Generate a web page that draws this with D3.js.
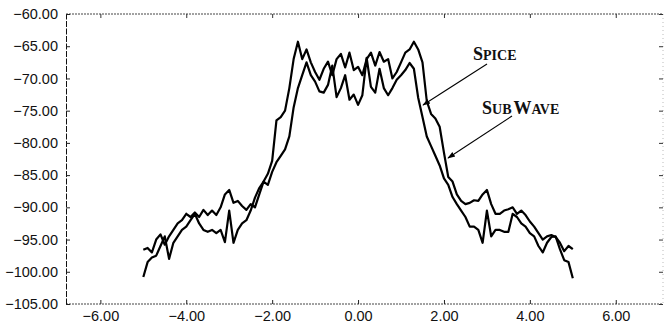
<!DOCTYPE html>
<html>
<head>
<meta charset="utf-8">
<script src="https://cdn.jsdelivr.net/npm/d3@7"></script>
<style>
  body { margin: 0; background: #fff; }
  svg { display: block; }
  .tick text { font-family: "Liberation Sans", Arial, sans-serif; font-size: 14.5px; fill: #111; }
</style>
</head>
<body>
<svg id="chart" width="667" height="325"></svg>
<script>
// x positions of the samples (step 0.1 from -5 to 5)
const xValues = d3.range(-50, 51).map((i) => i / 10);

// outer curve (SubWave)
const subwave = [
  -96.6, -96.3, -97.0, -95.0, -94.2, -95.8, -94.5, -93.5, -92.5, -92.0,
  -91.0, -91.5, -90.8, -91.5, -90.4, -91.2, -90.5, -91.2, -90.0, -88.0,
  -87.3, -89.3, -89.0, -89.8, -90.4, -89.5, -90.0, -88.0, -86.0, -84.8,
  -82.8, -76.5, -76.0, -75.0, -71.5, -67.0, -64.3, -67.0, -65.5, -67.5,
  -69.0, -70.2, -68.5, -67.4, -69.5, -67.0, -66.2, -68.3, -66.0, -68.7,
  -68.2, -69.5, -67.0, -66.0, -68.0, -65.9, -67.4, -67.0, -70.0, -69.0,
  -67.5, -66.0, -65.5, -64.3, -65.5, -67.5, -73.5, -75.5, -76.2, -77.5,
  -81.5, -85.3, -86.0, -88.0, -89.0, -89.5, -89.3, -88.9, -89.0, -88.0,
  -87.3, -89.5, -91.0, -91.0, -90.5, -90.3, -90.0, -91.0, -90.5, -91.2,
  -92.2, -93.0, -94.0, -95.0, -94.5, -94.3, -94.6, -95.5, -96.8, -96.0,
  -96.5
];

// inner curve (Spice)
const spice = [
  -100.8, -98.5, -97.8, -97.5, -96.0, -94.5, -98.0, -95.5, -94.5, -93.5,
  -93.0, -92.0, -91.0, -92.5, -93.5, -93.8, -93.5, -94.0, -93.5, -95.4,
  -90.5, -95.5, -93.5, -92.5, -92.0, -90.5, -88.5, -87.0, -86.0, -86.5,
  -84.5, -83.0, -82.0, -81.0, -79.0, -74.5, -71.5, -69.5, -67.5, -69.5,
  -70.5, -72.0, -72.2, -71.0, -68.0, -72.9, -71.5, -69.5, -73.3, -72.5,
  -74.1, -72.6, -66.8, -71.3, -72.2, -68.5, -71.5, -72.6, -71.5, -70.2,
  -69.5, -68.7, -67.6, -68.5, -73.0, -76.0, -79.0, -80.5, -82.0, -83.5,
  -85.5, -86.5, -88.4, -89.5, -90.5, -91.5, -93.0, -93.0, -93.5, -95.5,
  -90.5, -94.5, -93.5, -93.5, -93.8, -93.8, -91.0, -91.5, -92.5, -93.0,
  -94.0, -94.5, -96.0, -97.0, -95.5, -94.6, -94.5, -96.5, -98.2, -98.5,
  -101.0
];

const xTicks = [-6, -4, -2, 0, 2, 4, 6];
const yTicks = [-60, -65, -70, -75, -80, -85, -90, -95, -100, -105];

const svg = d3.select("#chart");
const plotLeft = 66, plotRight = 663, plotTop = 14, plotBottom = 304;

const x = d3.scaleLinear().domain([-6.8, 7.1]).range([plotLeft, plotRight]);
const y = d3.scaleLinear().domain([-105, -60]).range([plotBottom, plotTop]);
const fmt = d3.format(".2f");

// frame
svg.append("line")
  .attr("x1", plotLeft).attr("x2", plotRight).attr("y1", plotTop).attr("y2", plotTop)
  .attr("stroke", "#444").attr("stroke-width", 1).attr("stroke-dasharray", "2,1");
svg.append("line")
  .attr("x1", plotLeft).attr("x2", plotRight).attr("y1", plotBottom).attr("y2", plotBottom)
  .attr("stroke", "#444").attr("stroke-width", 1).attr("stroke-dasharray", "2,1");
svg.append("line")
  .attr("x1", plotRight).attr("x2", plotRight).attr("y1", plotTop).attr("y2", plotBottom)
  .attr("stroke", "#bbb").attr("stroke-width", 1).attr("stroke-dasharray", "1,3");

// left axis
const yAxis = svg.append("g")
  .attr("transform", `translate(${plotLeft}, 0)`)
  .call(d3.axisLeft(y).tickValues(yTicks).tickFormat(fmt).tickSize(-4).tickPadding(8).tickSizeOuter(0));
yAxis.select(".domain").attr("stroke", "#111").attr("stroke-dasharray", "6,1.5");
yAxis.selectAll(".tick line").attr("stroke", "#222");

// right ticks
svg.append("g")
  .attr("transform", `translate(${plotRight}, 0)`)
  .call(d3.axisRight(y).tickValues(yTicks).tickFormat("").tickSize(-4).tickSizeOuter(0))
  .call((g) => g.select(".domain").remove())
  .selectAll(".tick line").attr("stroke", "#333");

// bottom axis
const xAxis = svg.append("g")
  .attr("transform", `translate(0, ${plotBottom})`)
  .call(d3.axisBottom(x).tickValues(xTicks).tickFormat(fmt).tickSize(-4).tickPadding(7).tickSizeOuter(0));
xAxis.select(".domain").remove();
xAxis.selectAll(".tick line").attr("stroke", "#222");

// top ticks
svg.append("g")
  .attr("transform", `translate(0, ${plotTop})`)
  .call(d3.axisTop(x).tickValues(xTicks).tickFormat("").tickSize(-4).tickSizeOuter(0))
  .call((g) => g.select(".domain").remove())
  .selectAll(".tick line").attr("stroke", "#333");

// curves
const line = d3.line()
  .x((d) => x(d[0]))
  .y((d) => y(d[1]));

[subwave, spice].forEach((vals) => {
  svg.append("path")
    .datum(xValues.map((v, i) => [v, vals[i]]))
    .attr("d", line)
    .attr("fill", "none")
    .attr("stroke", "#000")
    .attr("stroke-width", 2.2)
    .attr("stroke-linejoin", "round");
});

// arrows + labels
svg.append("defs").append("marker")
  .attr("id", "arrow")
  .attr("viewBox", "0 0 10 10")
  .attr("refX", 9).attr("refY", 5)
  .attr("markerWidth", 7).attr("markerHeight", 7)
  .attr("orient", "auto")
  .append("path").attr("d", "M0,1.5 L10,5 L0,8.5 Z").attr("fill", "#000");

const notes = [
  { label: [["S", 18], ["PICE", 14]], tx: 473, ty: 60, from: [487, 64], to: [423, 105] },
  { label: [["S", 18], ["UB", 14], ["W", 18], ["AVE", 14]], tx: 482, ty: 114, from: [512, 116], to: [448, 158] }
];

notes.forEach((n) => {
  svg.append("line")
    .attr("x1", n.from[0]).attr("y1", n.from[1])
    .attr("x2", n.to[0]).attr("y2", n.to[1])
    .attr("stroke", "#000").attr("stroke-width", 1.1)
    .attr("marker-end", "url(#arrow)");
  const t = svg.append("text")
    .attr("x", n.tx).attr("y", n.ty)
    .attr("font-family", "'Liberation Serif', 'Times New Roman', serif")
    .attr("font-weight", "bold")
    .attr("fill", "#111");
  n.label.forEach((p, i) => {
    t.append("tspan")
      .attr("font-size", p[1])
      .attr("dx", i === 2 ? 2 : 0)
      .text(p[0]);
  });
});
</script>
</body>
</html>
